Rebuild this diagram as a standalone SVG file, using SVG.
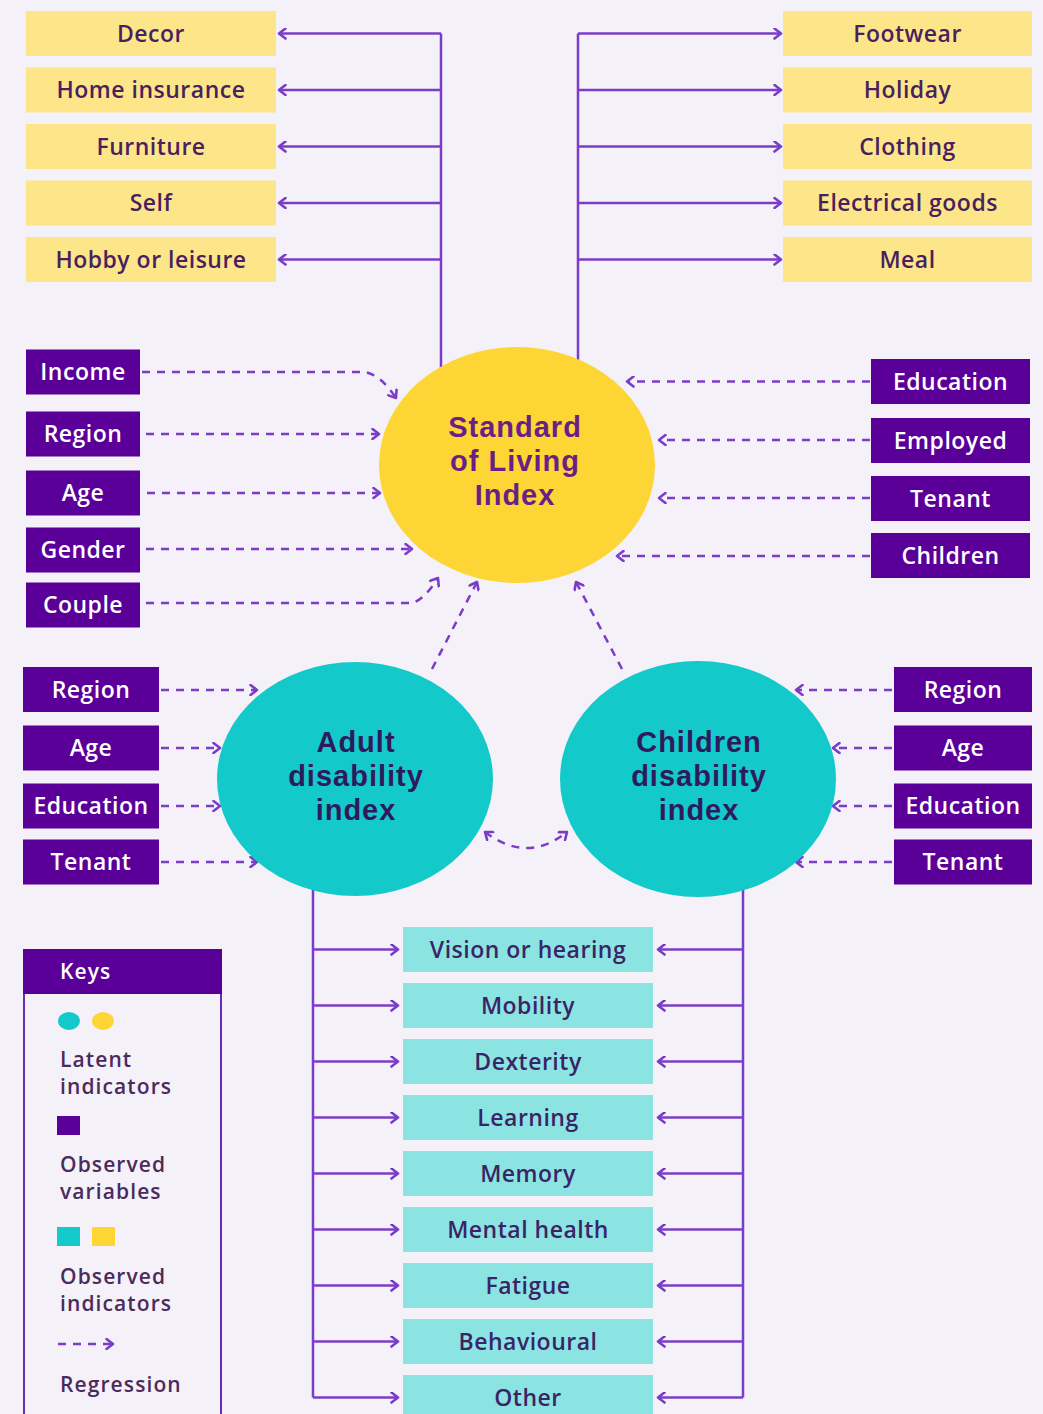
<svg xmlns="http://www.w3.org/2000/svg" width="1043" height="1414" viewBox="0 0 1043 1414">
<defs>
<marker id="ah" viewBox="0 0 12 12" refX="10" refY="6" markerWidth="12" markerHeight="12" markerUnits="userSpaceOnUse" orient="auto-start-reverse">
<path d="M3.5,1 L10,6 L3.5,11" fill="none" stroke="#7b3cc8" stroke-width="2.6" stroke-linecap="round" stroke-linejoin="round" stroke-dasharray="none"/>
</marker>
<style>
.bg{fill:#f4f1f9}
.yb{fill:#fde68a}
.tb{fill:#8be4e2}
.pb{fill:#5a0099}
.t{font-family:"Open Sans","Noto Sans",sans-serif;font-weight:600;font-size:23px;letter-spacing:0.5px;text-anchor:middle}
.dk{fill:#4a1f5e}
.tk{fill:#3b2466}
.wt{fill:#ffffff}
.big{font-family:"Liberation Sans",Arial,sans-serif;font-weight:700;font-size:29px;letter-spacing:1px;text-anchor:middle}
.solid{fill:none;stroke:#7b3cc8;stroke-width:2.5;marker-end:url(#ah)}
.trunk{fill:none;stroke:#7b3cc8;stroke-width:2.5}
.dash{fill:none;stroke:#7b3cc8;stroke-width:2.5;stroke-dasharray:8 7;marker-end:url(#ah)}
.key{font-family:"Open Sans","Noto Sans",sans-serif;font-weight:600;font-size:21px;letter-spacing:1.1px;fill:#4b2a5c}
</style>
</defs>
<rect class="bg" x="0" y="0" width="1043" height="1414"/>

<g id="connectors">
<path class="trunk" d="M441,368 V33.5"/>
<path class="solid" d="M441,33.5 H279"/>
<path class="solid" d="M441,90 H279"/>
<path class="solid" d="M441,146.5 H279"/>
<path class="solid" d="M441,203 H279"/>
<path class="solid" d="M441,259.5 H279"/>
<path class="trunk" d="M578,362 V33.5"/>
<path class="solid" d="M578,33.5 H781"/>
<path class="solid" d="M578,90 H781"/>
<path class="solid" d="M578,146.5 H781"/>
<path class="solid" d="M578,203 H781"/>
<path class="solid" d="M578,259.5 H781"/>
<path class="trunk" d="M313,880 V1397.5"/>
<path class="trunk" d="M743,880 V1397.5"/>
<path class="solid" d="M313,949.5 H398"/>
<path class="solid" d="M313,1005.5 H398"/>
<path class="solid" d="M313,1061.5 H398"/>
<path class="solid" d="M313,1117.5 H398"/>
<path class="solid" d="M313,1173.5 H398"/>
<path class="solid" d="M313,1229.5 H398"/>
<path class="solid" d="M313,1285.5 H398"/>
<path class="solid" d="M313,1341.5 H398"/>
<path class="solid" d="M313,1397.5 H398"/>
<path class="solid" d="M743,949.5 H658"/>
<path class="solid" d="M743,1005.5 H658"/>
<path class="solid" d="M743,1061.5 H658"/>
<path class="solid" d="M743,1117.5 H658"/>
<path class="solid" d="M743,1173.5 H658"/>
<path class="solid" d="M743,1229.5 H658"/>
<path class="solid" d="M743,1285.5 H658"/>
<path class="solid" d="M743,1341.5 H658"/>
<path class="solid" d="M743,1397.5 H658"/>
<path class="dash" d="M142,372 L364,372 Q380,374 396,398"/>
<path class="dash" d="M146,434 L379,434"/>
<path class="dash" d="M147,493 L380,493"/>
<path class="dash" d="M146,549 L412,549"/>
<path class="dash" d="M146,603 L412,603 Q424,600 438,578"/>
<path class="dash" d="M870,381.5 L627,381.5"/>
<path class="dash" d="M870,440 L659,440"/>
<path class="dash" d="M870,498 L659,498"/>
<path class="dash" d="M870,556 L617,556"/>
<path class="dash" d="M432,669 L477,582"/>
<path class="dash" d="M622,669 L576,582"/>
<path class="dash" d="M161,690 L257,690"/>
<path class="dash" d="M161,748 L220,748"/>
<path class="dash" d="M161,806 L220,806"/>
<path class="dash" d="M161,862 L257,862"/>
<path class="dash" d="M892,690 L796,690"/>
<path class="dash" d="M892,748 L833,748"/>
<path class="dash" d="M892,806 L833,806"/>
<path class="dash" d="M892,862 L796,862"/>
<path class="dash" style="marker-start:url(#ah)" d="M485,832 Q527,864 567,832"/>
</g>

<g id="sol">
<ellipse cx="517" cy="465" rx="138" ry="118" fill="#fdd535"/>
<text class="big" fill="#6a1f86"><tspan x="515" y="437">Standard</tspan><tspan x="515" y="471">of Living</tspan><tspan x="515" y="505">Index</tspan></text>
</g>
<g id="adult">
<ellipse cx="355" cy="779" rx="138" ry="117" fill="#14c9c9"/>
<text class="big" fill="#2e1b5e"><tspan x="356" y="752">Adult</tspan><tspan x="356" y="786">disability</tspan><tspan x="356" y="820">index</tspan></text>
</g>
<g id="children">
<ellipse cx="698" cy="779" rx="138" ry="118" fill="#14c9c9"/>
<text class="big" fill="#2e1b5e"><tspan x="699" y="752">Children</tspan><tspan x="699" y="786">disability</tspan><tspan x="699" y="820">index</tspan></text>
</g>

<g id="decor"><rect class="yb" x="26" y="11" width="250" height="45"/><text class="t dk" x="151" y="41.5">Decor</text></g>
<g id="home-insurance"><rect class="yb" x="26" y="67.5" width="250" height="45"/><text class="t dk" x="151" y="98">Home insurance</text></g>
<g id="furniture"><rect class="yb" x="26" y="124" width="250" height="45"/><text class="t dk" x="151" y="154.5">Furniture</text></g>
<g id="self"><rect class="yb" x="26" y="180.5" width="250" height="45"/><text class="t dk" x="151" y="211">Self</text></g>
<g id="hobby"><rect class="yb" x="26" y="237" width="250" height="45"/><text class="t dk" x="151" y="267.5">Hobby or leisure</text></g>

<g id="footwear"><rect class="yb" x="783" y="11" width="249" height="45"/><text class="t dk" x="907.5" y="41.5">Footwear</text></g>
<g id="holiday"><rect class="yb" x="783" y="67.5" width="249" height="45"/><text class="t dk" x="907.5" y="98">Holiday</text></g>
<g id="clothing"><rect class="yb" x="783" y="124" width="249" height="45"/><text class="t dk" x="907.5" y="154.5">Clothing</text></g>
<g id="electrical"><rect class="yb" x="783" y="180.5" width="249" height="45"/><text class="t dk" x="907.5" y="211">Electrical goods</text></g>
<g id="meal"><rect class="yb" x="783" y="237" width="249" height="45"/><text class="t dk" x="907.5" y="267.5">Meal</text></g>

<g id="income"><rect class="pb" x="26" y="349.5" width="114" height="45"/><text class="t wt" x="83" y="380">Income</text></g>
<g id="region1"><rect class="pb" x="26" y="411.5" width="114" height="45"/><text class="t wt" x="83" y="442">Region</text></g>
<g id="age1"><rect class="pb" x="26" y="470.5" width="114" height="45"/><text class="t wt" x="83" y="501">Age</text></g>
<g id="gender"><rect class="pb" x="26" y="527.5" width="114" height="45"/><text class="t wt" x="83" y="558">Gender</text></g>
<g id="couple"><rect class="pb" x="26" y="582.5" width="114" height="45"/><text class="t wt" x="83" y="613">Couple</text></g>

<g id="education1"><rect class="pb" x="871" y="359" width="159" height="45"/><text class="t wt" x="950.5" y="389.5">Education</text></g>
<g id="employed"><rect class="pb" x="871" y="418" width="159" height="45"/><text class="t wt" x="950.5" y="448.5">Employed</text></g>
<g id="tenant1"><rect class="pb" x="871" y="476" width="159" height="45"/><text class="t wt" x="950.5" y="506.5">Tenant</text></g>
<g id="children-var"><rect class="pb" x="871" y="533" width="159" height="45"/><text class="t wt" x="950.5" y="563.5">Children</text></g>

<g id="region2"><rect class="pb" x="23" y="667" width="136" height="45"/><text class="t wt" x="91" y="697.5">Region</text></g>
<g id="age2"><rect class="pb" x="23" y="725.5" width="136" height="45"/><text class="t wt" x="91" y="756">Age</text></g>
<g id="education2"><rect class="pb" x="23" y="783.5" width="136" height="45"/><text class="t wt" x="91" y="814">Education</text></g>
<g id="tenant2"><rect class="pb" x="23" y="839.5" width="136" height="45"/><text class="t wt" x="91" y="870">Tenant</text></g>

<g id="region3"><rect class="pb" x="894" y="667" width="138" height="45"/><text class="t wt" x="963" y="697.5">Region</text></g>
<g id="age3"><rect class="pb" x="894" y="725.5" width="138" height="45"/><text class="t wt" x="963" y="756">Age</text></g>
<g id="education3"><rect class="pb" x="894" y="783.5" width="138" height="45"/><text class="t wt" x="963" y="814">Education</text></g>
<g id="tenant3"><rect class="pb" x="894" y="839.5" width="138" height="45"/><text class="t wt" x="963" y="870">Tenant</text></g>

<g id="vision"><rect class="tb" x="403" y="927" width="250" height="45"/><text class="t tk" x="528" y="957.5">Vision or hearing</text></g>
<g id="mobility"><rect class="tb" x="403" y="983" width="250" height="45"/><text class="t tk" x="528" y="1013.5">Mobility</text></g>
<g id="dexterity"><rect class="tb" x="403" y="1039" width="250" height="45"/><text class="t tk" x="528" y="1069.5">Dexterity</text></g>
<g id="learning"><rect class="tb" x="403" y="1095" width="250" height="45"/><text class="t tk" x="528" y="1125.5">Learning</text></g>
<g id="memory"><rect class="tb" x="403" y="1151" width="250" height="45"/><text class="t tk" x="528" y="1181.5">Memory</text></g>
<g id="mental"><rect class="tb" x="403" y="1207" width="250" height="45"/><text class="t tk" x="528" y="1237.5">Mental health</text></g>
<g id="fatigue"><rect class="tb" x="403" y="1263" width="250" height="45"/><text class="t tk" x="528" y="1293.5">Fatigue</text></g>
<g id="behavioural"><rect class="tb" x="403" y="1319" width="250" height="45"/><text class="t tk" x="528" y="1349.5">Behavioural</text></g>
<g id="other"><rect class="tb" x="403" y="1375" width="250" height="45"/><text class="t tk" x="528" y="1405.5">Other</text></g>

<g id="keys">
<rect x="24" y="950" width="197" height="480" fill="none" stroke="#6a2bb5" stroke-width="2"/>
<rect class="pb" x="23" y="949" width="199" height="45"/>
<text class="key" x="60" y="979" style="fill:#ffffff">Keys</text>
<ellipse cx="69" cy="1021" rx="11" ry="9" fill="#14c9c9"/>
<ellipse cx="103" cy="1021" rx="11" ry="9" fill="#fdd535"/>
<text class="key"><tspan x="60" y="1067">Latent</tspan><tspan x="60" y="1094">indicators</tspan></text>
<rect class="pb" x="57" y="1116" width="23" height="19"/>
<text class="key"><tspan x="60" y="1172">Observed</tspan><tspan x="60" y="1199">variables</tspan></text>
<rect x="57" y="1227" width="23" height="19" fill="#14c9c9"/>
<rect x="92" y="1227" width="23" height="19" fill="#fdd535"/>
<text class="key"><tspan x="60" y="1284">Observed</tspan><tspan x="60" y="1311">indicators</tspan></text>
<path class="dash" d="M58,1344 L113,1344"/>
<text class="key" x="60" y="1392">Regression</text>
</g>
</svg>
